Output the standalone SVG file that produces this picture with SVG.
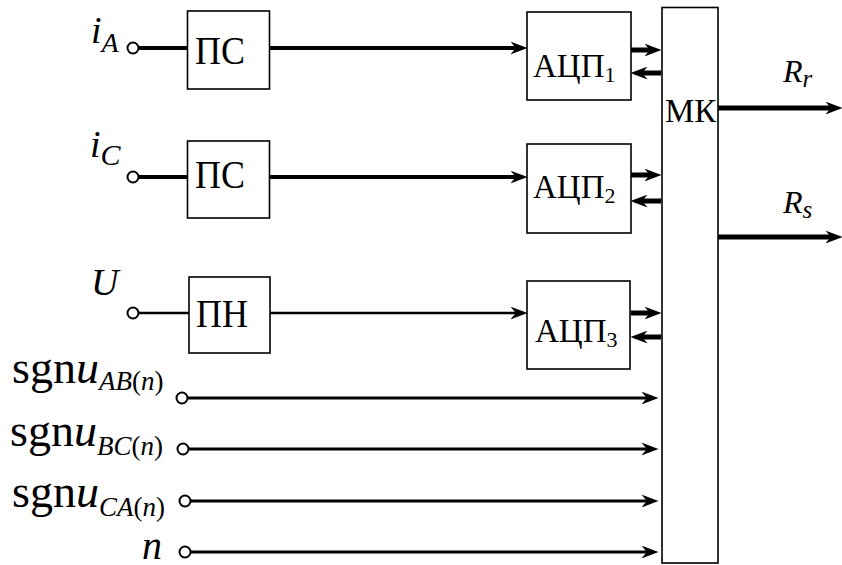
<svg xmlns="http://www.w3.org/2000/svg" width="842" height="565" viewBox="0 0 842 565">
<style>
text{font-family:"Liberation Serif","Times New Roman",serif;fill:#000}
.it{font-style:italic}
.box{fill:#fff;stroke:#000;stroke-width:1.6}
.term{fill:#fff;stroke:#000;stroke-width:2}
.w4{stroke:#000;stroke-width:4;fill:none}
.w3{stroke:#000;stroke-width:3;fill:none}
.w25{stroke:#000;stroke-width:2.5;fill:none}
.w5{stroke:#000;stroke-width:5;fill:none}
</style>
<defs>
<marker id="ah" viewBox="0 0 16 12" markerWidth="17" markerHeight="13" markerUnits="userSpaceOnUse" refX="8" refY="6" orient="auto">
<path d="M0,0 L16,6 L0,12 L5,6 Z" fill="#000"/>
</marker>
</defs>
<g id="connectors">
<line class="w4" x1="138" y1="48" x2="187" y2="48"/>
<line class="w4" x1="269" y1="48" x2="519" y2="48" marker-end="url(#ah)"/>
<line class="w4" x1="138" y1="177" x2="187" y2="177"/>
<line class="w4" x1="269" y1="177" x2="519" y2="177" marker-end="url(#ah)"/>
<line class="w25" x1="138" y1="313" x2="189" y2="313"/>
<line class="w25" x1="270" y1="313" x2="519" y2="313" marker-end="url(#ah)"/>
<line class="w5" x1="631" y1="50" x2="653" y2="50" marker-end="url(#ah)"/>
<line class="w5" x1="661" y1="73" x2="639" y2="73" marker-end="url(#ah)"/>
<line class="w5" x1="631" y1="175" x2="653" y2="175" marker-end="url(#ah)"/>
<line class="w5" x1="661" y1="201" x2="639" y2="201" marker-end="url(#ah)"/>
<line class="w5" x1="631" y1="313" x2="653" y2="313" marker-end="url(#ah)"/>
<line class="w5" x1="661" y1="337" x2="639" y2="337" marker-end="url(#ah)"/>
<line class="w3" x1="187" y1="398" x2="650" y2="398" marker-end="url(#ah)"/>
<line class="w3" x1="188" y1="449" x2="650" y2="449" marker-end="url(#ah)"/>
<line class="w3" x1="190" y1="501" x2="650" y2="501" marker-end="url(#ah)"/>
<line class="w3" x1="190" y1="552" x2="650" y2="552" marker-end="url(#ah)"/>
<line class="w5" x1="718" y1="108" x2="834" y2="108" marker-end="url(#ah)"/>
<line class="w5" x1="718" y1="237" x2="834" y2="237" marker-end="url(#ah)"/>
</g>
<g id="terminals">
<circle class="term" cx="133" cy="48" r="5.5"/>
<circle class="term" cx="133" cy="177" r="5.5"/>
<circle class="term" cx="133" cy="313" r="5.5"/>
<circle class="term" cx="182" cy="398" r="5.5"/>
<circle class="term" cx="183" cy="449" r="5.5"/>
<circle class="term" cx="185" cy="501" r="5.5"/>
<circle class="term" cx="185" cy="552" r="5.5"/>
</g>
<g id="PS1"><rect class="box" x="187.5" y="11" width="82" height="78"/><text transform="translate(195,64) scale(1,1.12)" font-size="36">ПС</text></g>
<g id="PS2"><rect class="box" x="187.5" y="141" width="82" height="77"/><text transform="translate(195,188) scale(1,1.12)" font-size="36">ПС</text></g>
<g id="PN"><rect class="box" x="189" y="277" width="81" height="76"/><text transform="translate(196,327) scale(1,1.12)" font-size="36">ПН</text></g>
<g id="ADC1"><rect class="box" x="527" y="12" width="104" height="88"/><text x="533" y="77" font-size="33">АЦП<tspan font-size="22" dy="5">1</tspan></text></g>
<g id="ADC2"><rect class="box" x="527" y="144" width="104" height="89"/><text x="533" y="198" font-size="33">АЦП<tspan font-size="22" dy="5">2</tspan></text></g>
<g id="ADC3"><rect class="box" x="527" y="281" width="103" height="88"/><text x="535" y="342" font-size="33">АЦП<tspan font-size="22" dy="5">3</tspan></text></g>
<g id="MK"><rect class="box" x="662" y="7.5" width="56" height="555.5"/><text x="665" y="122" font-size="33">МК</text></g>
<g id="labels">
<text x="91" y="43" font-size="38" class="it">i<tspan font-size="28" dy="9">A</tspan></text>
<text x="90" y="157" font-size="38" class="it">i<tspan font-size="30" dy="8">C</tspan></text>
<text x="91" y="295" font-size="38" class="it">U</text>
<text x="12" y="383" font-size="46">sgn<tspan class="it">u</tspan><tspan font-size="27" dy="7" class="it">AB</tspan><tspan font-size="27">(</tspan><tspan font-size="27" class="it">n</tspan><tspan font-size="27">)</tspan></text>
<text x="10" y="446" font-size="46">sgn<tspan class="it">u</tspan><tspan font-size="27" dy="9" class="it">BC</tspan><tspan font-size="27">(</tspan><tspan font-size="27" class="it">n</tspan><tspan font-size="27">)</tspan></text>
<text x="12" y="507" font-size="46">sgn<tspan class="it">u</tspan><tspan font-size="27" dy="9" class="it">CA</tspan><tspan font-size="27">(</tspan><tspan font-size="27" class="it">n</tspan><tspan font-size="27">)</tspan></text>
<text x="142" y="559" font-size="40" class="it">n</text>
<text x="783" y="82" font-size="32" class="it">R<tspan font-size="25" dy="5">r</tspan></text>
<text x="783" y="213" font-size="32" class="it">R<tspan font-size="25" dy="5">s</tspan></text>
</g>
</svg>
